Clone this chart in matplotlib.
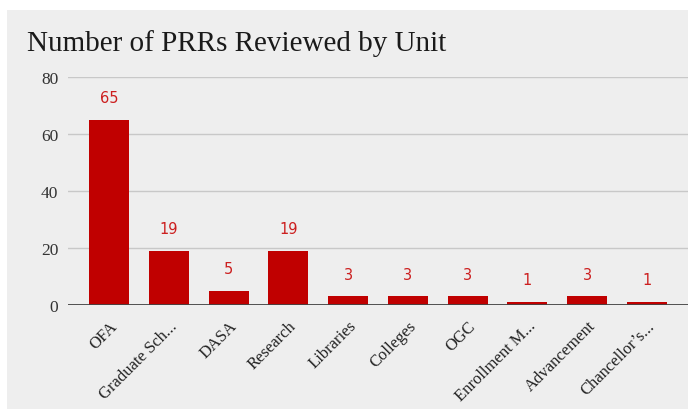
import matplotlib.pyplot as plt
from matplotlib.patches import Rectangle

# Data
units = ["OFA", "Graduate Sch...", "DASA", "Research", "Libraries", "Colleges",
         "OGC", "Enrollment M...", "Advancement", "Chancellor\u2019s..."]
reviewed = [65, 19, 5, 19, 3, 3, 3, 1, 3, 1]
yticks = [0, 20, 40, 60, 80]

BAR_COLOR = "#c00000"
LABEL_COLOR = "#cc1f1f"
BG = "#eeeeee"
SERIF = "Liberation Serif"

fig = plt.figure(figsize=(6.98, 4.10), dpi=100)
fig.patch.set_facecolor("white")
# grey card behind the chart
card = Rectangle((7 / 698, 0), 681 / 698, 399 / 410,
                 transform=fig.transFigure, facecolor=BG,
                 edgecolor="none", zorder=-10)
fig.add_artist(card)

ax = fig.add_axes([68 / 698, 104 / 410, 620 / 698, 228.3 / 410])
ax.set_zorder(1)
ax.patch.set_alpha(0)

x = range(len(units))
ax.bar(x, reviewed, width=0.67, color=BAR_COLOR, zorder=3)

for i, v in enumerate(reviewed):
    ax.annotate(str(v), (i, v), xytext=(0, 16), textcoords="offset points",
                ha="center", va="center", color=LABEL_COLOR,
                fontsize=10.5, family="DejaVu Sans", zorder=4)

ax.set_xlim(-0.686, 9.686)
ax.set_ylim(0, 80)
ax.set_yticks(yticks)
ax.set_yticklabels([str(t) for t in yticks], family=SERIF, fontsize=12.5,
                   color="#333333")
ax.grid(axis="y", color="#c8c8c8", linewidth=1, zorder=0)
ax.axhline(0, color="#444444", linewidth=1.3, zorder=4)

ax.set_xticks(list(x))
ax.set_xticklabels(units, rotation=45, ha="right", rotation_mode="anchor",
                   family=SERIF, fontsize=12, color="#222222")
ax.tick_params(axis="both", length=0)
ax.tick_params(axis="y", pad=7)
ax.tick_params(axis="x", pad=9)
for s in ax.spines.values():
    s.set_visible(False)

fig.text(27 / 698, 1 - 44 / 410, "Number of PRRs Reviewed by Unit",
         family=SERIF, fontsize=21, color="#1a1a1a", va="center", ha="left")

fig.savefig("out.png", dpi=100, facecolor=fig.get_facecolor())
